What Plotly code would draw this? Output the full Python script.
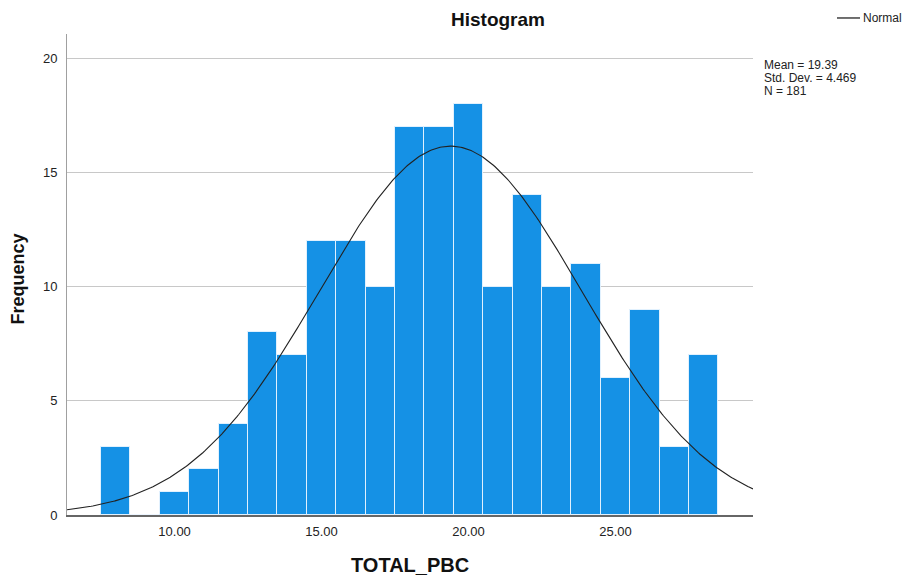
import numpy as np
import plotly.graph_objects as go

# Bin centres of TOTAL_PBC and counts per bin
bin_centers = [8, 9, 10, 11, 12, 13, 14, 15, 16, 17, 18, 19, 20, 21, 22, 23, 24, 25, 26, 27, 28]
frequencies = [3, 0, 1, 2, 4, 8, 7, 12, 12, 10, 17, 17, 18, 10, 14, 10, 11, 6, 9, 3, 7]

# Summary statistics
mean_val = 19.39
std_dev = 4.469
n_total = 181
bin_width = 1.0

x_ticks = [10, 15, 20, 25]
x_tick_labels = ["10.00", "15.00", "20.00", "25.00"]
y_ticks = [0, 5, 10, 15, 20]

x_range = [6.34, 29.68]
y_range = [0, 21.07]

FONT = "Liberation Sans, Arial, sans-serif"
BAR_COLOR = "#1591E5"

# Normal density scaled to counts
xs = np.linspace(x_range[0], x_range[1], 400)
ys = n_total * bin_width / (std_dev * np.sqrt(2 * np.pi)) * np.exp(-0.5 * ((xs - mean_val) / std_dev) ** 2)

fig = go.Figure()
fig.add_trace(go.Bar(
    x=bin_centers, y=frequencies, width=bin_width,
    marker=dict(color=BAR_COLOR, line=dict(color="rgba(235,245,255,0.9)", width=1)),
    showlegend=False, hoverinfo="x+y",
))
fig.add_trace(go.Scatter(
    x=xs, y=ys, mode="lines", line=dict(color="#222222", width=1.1),
    name="Normal", showlegend=False,
))

fig.update_layout(
    width=904, height=581,
    margin=dict(l=67, r=151, t=34, b=66),
    paper_bgcolor="white", plot_bgcolor="white",
    bargap=0,
    font=dict(family=FONT, size=12, color="#222222"),
    xaxis=dict(
        range=x_range, tickvals=x_ticks, ticktext=x_tick_labels,
        showgrid=False, zeroline=False, showline=True, linecolor="#666666", linewidth=1.5,
        ticks="", ticklabelstandoff=4, tickfont=dict(size=13, family=FONT, color="#222222"),
    ),
    yaxis=dict(
        range=y_range, tickvals=y_ticks,
        showgrid=True, gridcolor="#c8c8c8", gridwidth=1,
        zeroline=False, showline=True, linecolor="#a0a0a0", linewidth=1,
        ticks="", ticklabelstandoff=6, tickfont=dict(size=13, family=FONT, color="#222222"),
    ),
)

# Title
fig.add_annotation(
    text="<b>Histogram</b>", xref="paper", yref="paper", x=0.628, y=1.031,
    xanchor="center", yanchor="middle", showarrow=False,
    font=dict(size=19, family=FONT, color="#111111"),
)

# Axis titles
fig.add_annotation(
    text="<b>TOTAL_PBC</b>", xref="paper", yref="paper", x=0.4993, y=-0.104,
    xanchor="center", yanchor="middle", showarrow=False,
    font=dict(size=20, family=FONT, color="#111111"),
)
fig.add_annotation(
    text="<b>Frequency</b>", xref="paper", yref="paper", x=-0.0707, y=0.4906,
    xanchor="center", yanchor="middle", textangle=-90, showarrow=False,
    font=dict(size=18, family=FONT, color="#111111"),
)

# Legend entry for the normal curve
fig.add_shape(type="line", xref="paper", yref="paper",
              x0=1.1224, x1=1.156, y0=1.0333, y1=1.0333,
              line=dict(color="#111111", width=1.2))
fig.add_annotation(
    text="Normal", xref="paper", yref="paper", x=1.1574, y=1.0333,
    xanchor="left", yanchor="middle", showarrow=False,
    font=dict(size=12, family=FONT, color="#222222"),
)

# Summary statistics
stat_lines = [f"Mean = {mean_val:.2f}", f"Std. Dev. = {std_dev:.3f}", f"N = {n_total}"]
stat_y = [0.9356, 0.9085, 0.8815]
for line, yy in zip(stat_lines, stat_y):
    fig.add_annotation(
        text=line, xref="paper", yref="paper", x=1.0131, y=yy,
        xanchor="left", yanchor="middle", align="left", showarrow=False,
        font=dict(size=12, family=FONT, color="#222222"),
    )

fig.write_html("out.html")
